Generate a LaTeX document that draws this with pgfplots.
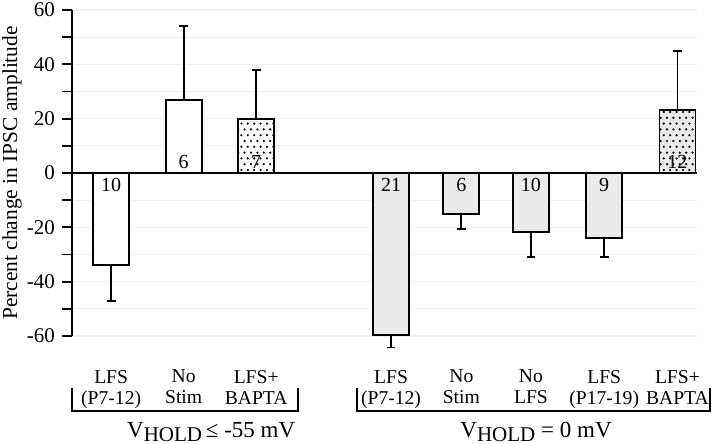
\documentclass[border=0pt]{standalone}
\usepackage{fontspec}
\setmainfont{Liberation Serif}
\usepackage{pgfplots}
\pgfplotsset{compat=1.18}
\usetikzlibrary{patterns}
\definecolor{barfill}{HTML}{EBEBEB}
\definecolor{gridc}{HTML}{F0F0F0}
\pgfdeclarepatternformonly{sparsedots}{\pgfqpoint{-1pt}{-1pt}}{\pgfqpoint{4pt}{6.6pt}}{\pgfqpoint{3.2pt}{5.8pt}}{%
  \pgfpathcircle{\pgfqpoint{0.7pt}{0.7pt}}{0.62pt}%
  \pgfpathcircle{\pgfqpoint{2.3pt}{3.6pt}}{0.62pt}%
  \pgfusepath{fill}}

\pgfplotstableread{
x y e
0 -34 13
}\negwhite
\pgfplotstableread{
x y e
1 27 27
}\poswhite
\pgfplotstableread{
x y e
2 20 18
}\dotwhite
\pgfplotstableread{
x y e
3.86 -59.5 4.7
4.83 -15.0 5.5
5.79 -21.6 9.4
6.80 -23.8 7.0
}\neggray
\pgfplotstableread{
x y e
7.81 23.2 21.8
}\dotgray

\begin{document}
\begin{tikzpicture}
\path[use as bounding box] (-36pt,-54pt) rectangle (324pt,168pt);
\begin{axis}[
  scale only axis,
  width=312.5pt, height=163pt,
  xmin=-0.54, xmax=8.08,
  ymin=-60, ymax=60,
  clip=false,
  axis y line*=left,
  axis x line*=bottom,
  x axis line style={draw=none},
  major x tick style={draw=none},
  y axis line style={line width=0.9pt},
  ytick={-60,-40,...,60},
  minor ytick={-50,-30,...,50},
  tick align=outside,
  major tick length=5pt,
  minor tick length=5pt,
  every tick/.style={line width=0.9pt, black},
  ymajorgrids, yminorgrids,
  major grid style={gridc, line width=0.6pt},
  minor grid style={gridc, line width=0.6pt},
  /pgf/number format/assume math mode=true,
  yticklabel style={font=\fontsize{10.5}{12}\selectfont},
  xtick={0,1,2,3.86,4.83,5.79,6.80,7.81},
  xticklabels={{LFS\\(P7-12)},{No\\Stim},{LFS+\\BAPTA},{LFS\\(P7-12)},{No\\Stim},{No\\LFS},{LFS\\(P17-19)},{LFS+\\BAPTA}},
  xticklabel style={align=center, font=\fontsize{9.8}{10.5}\selectfont, yshift=-8.5pt},
  ylabel={Percent change in IPSC amplitude},
  ylabel style={at={(axis description cs:-0.096,0.5)}, anchor=center, font=\fontsize{10.7}{12}\selectfont},
  error bars/error bar style={line width=0.9pt, black},
  error bars/error mark options={rotate=90, line width=0.9pt, black, mark size=2.2pt},
]
\addplot[ybar, bar width=18pt, draw=black, line width=0.9pt, fill=white,
  error bars/.cd, y dir=minus, y explicit]
  table[x=x, y=y, y error=e] {\negwhite};
\addplot[ybar, bar width=18pt, draw=black, line width=0.9pt, fill=white,
  error bars/.cd, y dir=plus, y explicit]
  table[x=x, y=y, y error=e] {\poswhite};
\addplot[ybar, bar width=18pt, draw=black, line width=0.9pt, fill=white,
  postaction={pattern=sparsedots},
  error bars/.cd, y dir=plus, y explicit]
  table[x=x, y=y, y error=e] {\dotwhite};
\addplot[ybar, bar width=18pt, draw=black, line width=0.9pt, fill=barfill,
  error bars/.cd, y dir=minus, y explicit]
  table[x=x, y=y, y error=e] {\neggray};
\addplot[ybar, bar width=18pt, draw=black, line width=0.9pt, fill=barfill,
  postaction={pattern=sparsedots},
  error bars/.cd, y dir=plus, y explicit]
  table[x=x, y=y, y error=e] {\dotgray};
% zero line
\draw[line width=0.9pt] (axis cs:-0.54,0) -- (axis cs:8.08,0);
% n labels
\begin{scope}[every node/.style={font=\fontsize{10}{11}\selectfont, inner sep=0pt}]
\node[anchor=north] at (axis cs:0,-1.9) {10};
\node[anchor=south] at (axis cs:1,1.5) {6};
\node[anchor=south] at (axis cs:2,1.5) {7};
\node[anchor=north] at (axis cs:3.86,-1.9) {21};
\node[anchor=north] at (axis cs:4.83,-1.9) {6};
\node[anchor=north] at (axis cs:5.79,-1.9) {10};
\node[anchor=north] at (axis cs:6.80,-1.9) {9};
\node[anchor=south] at (axis cs:7.81,1.5) {12};
\end{scope}
% brackets
\draw[line width=0.9pt] (axis cs:-0.54,-79.2) -- (axis cs:-0.54,-87.6) -- (axis cs:2.58,-87.6) -- (axis cs:2.58,-79.2);
\draw[line width=0.9pt] (axis cs:3.39,-79.2) -- (axis cs:3.39,-87.6) -- (axis cs:8.26,-87.6) -- (axis cs:8.26,-79.2);
\node[font=\fontsize{11.5}{12}\selectfont, anchor=base] at (axis cs:1.38,-97.5) {V\raisebox{-0.35ex}{\fontsize{10.5}{11}\selectfont HOLD}\,≤ -55 mV};
\node[font=\fontsize{11.5}{12}\selectfont, anchor=base] at (axis cs:5.86,-97.5) {V\raisebox{-0.35ex}{\fontsize{10.5}{11}\selectfont HOLD} = 0 mV};
\end{axis}
\end{tikzpicture}
\end{document}
